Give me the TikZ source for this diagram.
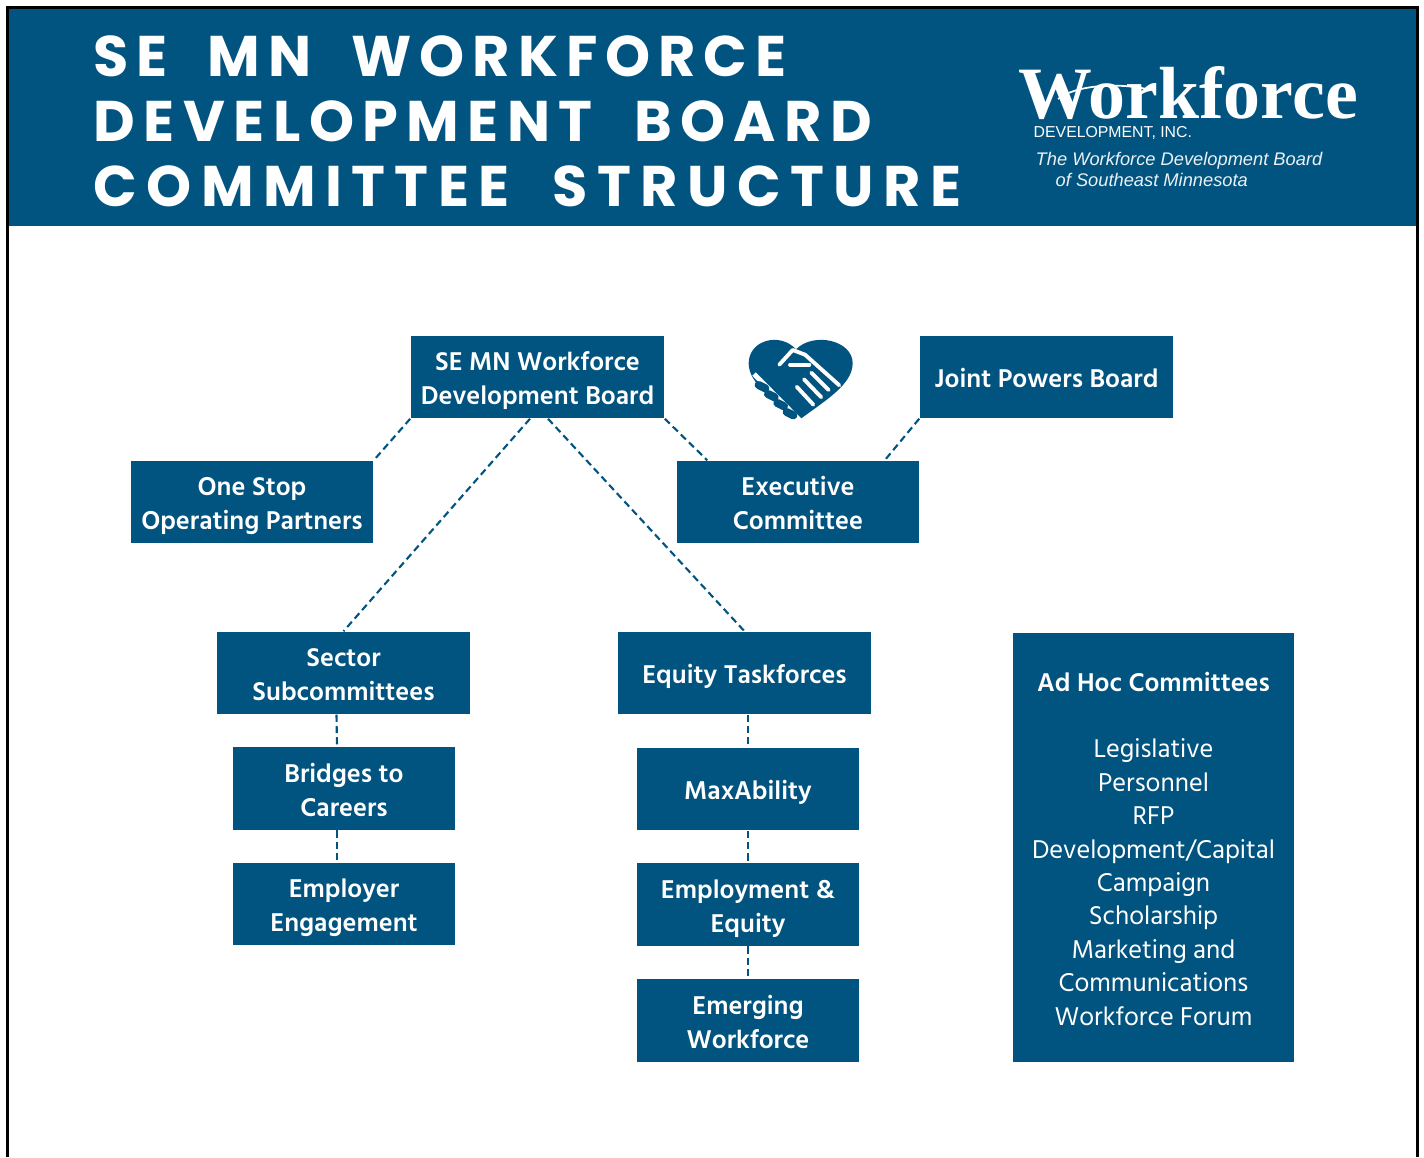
\documentclass[tikz,border=0pt]{standalone}
\usepackage{fontspec}
\setmainfont{Hind Madurai}
\newfontfamily\titlefont[LetterSpace=15, WordSpace=2.0]{Poppins}
\newfontfamily\logoserif{Liberation Serif}
\newfontfamily\logosans{Liberation Sans}
\definecolor{wfblue}{RGB}{2,84,128}
\newcommand\topstrut{\rule{0pt}{8.4pt}}
\newcommand\botstrut{\rule[-2.4pt]{0pt}{2.4pt}}

\begin{document}
\begin{tikzpicture}[x=0.01cm, y=-0.01cm,
    box/.style={fill=wfblue, text=white, align=center, inner sep=0pt,
        font=\fontsize{7.5}{9.67}\selectfont\bfseries},
    wide/.style={box, minimum width=2.53cm, minimum height=0.82cm},
    mid/.style={box, minimum width=2.42cm, minimum height=0.82cm},
    narrow/.style={box, minimum width=2.22cm, minimum height=0.825cm},
    link/.style={draw=wfblue, line width=0.6pt, dash pattern=on 2pt off 1.2pt},
    titletext/.style={text=white, inner sep=0pt, font=\titlefont\fontsize{16.3}{18.5}\selectfont\bfseries}]

    \useasboundingbox (0,0) rectangle (1424,1157);
    \fill[white] (0,0) rectangle (1424,1157);

    % header
    \fill[wfblue] (8,8) rectangle (1417,226);
    \draw[line width=0.6pt] (7.5,1157) -- (7.5,7.5) -- (1417.5,7.5) -- (1417.5,1157);
    \node[titletext, anchor=base west] (title1) at (93,76) {\addfontfeature{LetterSpace=13.8}SE MN WORKFORCE};
    \node[titletext, anchor=base west] (title2) at (93,141) {\addfontfeature{LetterSpace=14.8}DEVELOPMENT BOARD};
    \node[titletext, anchor=base west] (title3) at (93,206) {\addfontfeature{LetterSpace=16.4}COMMITTEE STRUCTURE};

    % logo
    \node[text=white, inner sep=0pt, text depth=0pt, anchor=base west, font=\logoserif\fontsize{21}{21}\selectfont\bfseries] (logo) at (1018,118) {Workforce};
    \draw[white, line width=0.5pt] (1058,99) .. controls (1080,82) and (1130,84) .. (1150,90);
    \node[text=white, inner sep=0pt, anchor=base west, font=\logosans\fontsize{4.5}{4.5}\selectfont] (inc) at (1033,137) {DEVELOPMENT, INC.};
    \node[text=white!92!wfblue, inner sep=0pt, anchor=base west, font=\logosans\fontsize{5.2}{6}\selectfont\itshape] (tag1) at (1035,165) {The Workforce Development Board};
    \node[text=white!92!wfblue, inner sep=0pt, anchor=base west, font=\logosans\fontsize{5.2}{6}\selectfont\itshape] (tag2) at (1055,186) {of Southeast Minnesota};

    % boxes
    \node[wide] (board) at (537.5,377) {\topstrut SE MN Workforce\\Development Board\botstrut};
    \node[wide] (joint) at (1046.5,377) {\topstrut Joint Powers Board\botstrut};
    \node[mid] (onestop) at (252,502) {\topstrut One Stop\\Operating Partners\botstrut};
    \node[mid] (exec) at (798,502) {\topstrut Executive\\Committee\botstrut};
    \node[wide] (sector) at (343.5,673) {\topstrut Sector\\Subcommittees\botstrut};
    \node[wide] (equity) at (744.5,673) {\topstrut Equity Taskforces\botstrut};
    \node[narrow] (bridges) at (344,788.5) {\topstrut Bridges to\\Careers\botstrut};
    \node[narrow] (employer) at (344,904) {\topstrut Employer\\Engagement\botstrut};
    \node[narrow] (maxab) at (748,789) {\topstrut MaxAbility\botstrut};
    \node[narrow] (empeq) at (748,904.5) {\topstrut Employment \&\\Equity\botstrut};
    \node[narrow] (emerging) at (748,1020.5) {\topstrut Emerging\\Workforce\botstrut};
    \node[box, font=\fontsize{7.5}{9.5}\selectfont\bfseries, minimum width=2.81cm, minimum height=4.29cm] (adhoc) at (1153.5,847.5)
        {\topstrut Ad Hoc Committees\\[9.5pt]
        \mdseries Legislative\\ \mdseries Personnel\\ \mdseries RFP\\ \mdseries Development/Capital\\
        \mdseries Campaign\\ \mdseries Scholarship\\ \mdseries Marketing and\\ \mdseries Communications\\
        \mdseries Workforce Forum\botstrut};

    % connectors
    \draw[link] (board.south west) -- (onestop.north east);
    \draw[link] (board.south east) -- ([xshift=3.1mm]exec.north west);
    \draw[link] (joint.south west) -- ([xshift=-3.5mm]exec.north east);
    \draw[link] ([xshift=-0.75mm]board.south) -- (sector.north);
    \draw[link] ([xshift=1.05mm]board.south) -- (equity.north);
    \draw[link] ([xshift=-0.7mm]sector.south) -- ([xshift=-0.7mm]bridges.north);
    \draw[link] ([xshift=-0.7mm]bridges.south) -- ([xshift=-0.7mm]employer.north);
    \draw[link] (maxab.north |- equity.south) -- (maxab.north);
    \draw[link] (maxab.south) -- (empeq.north);
    \draw[link] (empeq.south) -- (emerging.north);

    % heart with handshake
    \begin{scope}[shift={(740,330)}, scale=1/3]
        \fill[wfblue] (180,268) .. controls (110,215) and (26,165) .. (26,100)
            .. controls (26,30) and (120,5) .. (168,58)
            .. controls (220,5) and (338,30) .. (338,100)
            .. controls (338,165) and (250,215) .. (180,268) -- cycle;
        \draw[white, line width=1.1pt, line cap=round, line join=round]
            (118,104) -- (158,60) -- (195,74) -- (298,166);
        \draw[white, line width=1.1pt, line cap=round] (150,104) -- (208,104);
        \draw[white, line width=1.1pt, line cap=round] (214,128) -- (266,180);
        \draw[white, line width=1.1pt, line cap=round] (192,148) -- (244,202);
        \draw[white, line width=1.1pt, line cap=round] (170,170) -- (220,224);
        \draw[white, line width=1.4pt] (42,132) -- (190,282);
        \foreach \fx/\fy in {66/170, 94/197, 122/224, 150/251}
            \draw[wfblue, line width=2.3pt, line cap=round] (\fx-10,\fy-5) -- (\fx+10,\fy+5);
    \end{scope}

\end{tikzpicture}
\end{document}
